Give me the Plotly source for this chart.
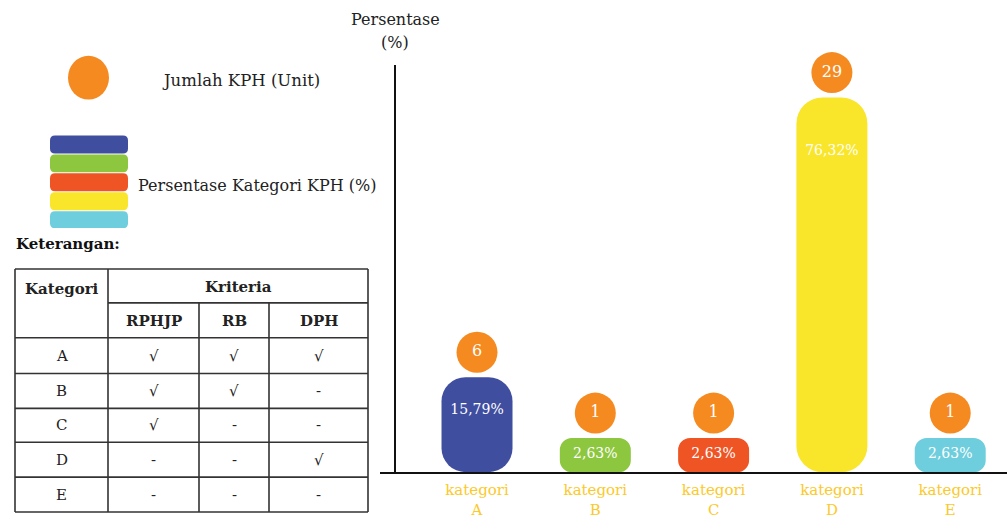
import plotly.graph_objects as go

# ---------------- data ----------------
categories = ["A", "B", "C", "D", "E"]
tick_labels = ["kategori<br>A", "kategori<br>B", "kategori<br>C", "kategori<br>D", "kategori<br>E"]
percent_values = [15.79, 2.63, 2.63, 76.32, 2.63]
percent_labels = ["15,79%", "2,63%", "2,63%", "76,32%", "2,63%"]
kph_units = [6, 1, 1, 29, 1]

table_categories = ["A", "B", "C", "D", "E"]
rphjp = ["√", "√", "√", "-", "-"]
rb = ["√", "√", "-", "-", "-"]
dph = ["√", "-", "-", "√", "-"]

legend_unit = "Jumlah KPH (Unit)"
legend_pct = "Persentase Kategori KPH (%)"

# ---------------- style ----------------
W, H = 1007, 519
bar_colors = ["#3F4E9F", "#8DC63F", "#EF5424", "#F9E62A", "#6FCEDD"]
orange = "#F58A20"
gold = "#FCC92A"
serif = "DejaVu Serif"
corner_px = [24, 12, 12, 26, 12]
label_off_px = [33, 17, 17, 54, 17]
circle_off_px = 25

Y0, Y1 = -4.76, 83.4          # y-axis range (bars start at Y0)
plot_top_px, plot_bot_px = 65, 474
ppu = (plot_bot_px - plot_top_px) / (Y1 - Y0)


def px(x):
    return x / W


def py(y):
    return 1 - y / H


fig = go.Figure()

# bars (explicit base -> both ends rounded)
for i, c in enumerate(categories):
    fig.add_trace(go.Bar(
        x=[c], y=[percent_values[i] - Y0], base=[Y0], width=0.6,
        marker=dict(color=bar_colors[i], line=dict(width=0), cornerradius=corner_px[i]),
        hoverinfo="skip", showlegend=False,
    ))

# percentage labels inside bars
fig.add_trace(go.Scatter(
    x=categories,
    y=[v - o / ppu for v, o in zip(percent_values, label_off_px)],
    mode="text", text=percent_labels,
    textfont=dict(family=serif, size=14, color="white"),
    hoverinfo="skip", showlegend=False, cliponaxis=False,
))

# orange circles with KPH counts
fig.add_trace(go.Scatter(
    x=categories,
    y=[v + circle_off_px / ppu for v in percent_values],
    mode="markers+text", text=[str(k) for k in kph_units],
    textposition="middle center",
    marker=dict(size=41, color=orange, line=dict(width=0)),
    textfont=dict(family=serif, size=16, color="white"),
    hoverinfo="skip", showlegend=False, cliponaxis=False,
))

shapes = []
annotations = []


def note(text, x, y, size, xanchor="center", color="#222"):
    annotations.append(dict(text=text, x=px(x), y=py(y), xref="paper", yref="paper",
                            xanchor=xanchor, yanchor="middle", showarrow=False,
                            font=dict(family=serif, size=size, color=color)))


# legend: orange circle
shapes.append(dict(type="circle", xref="paper", yref="paper",
                   x0=px(68), x1=px(109), y0=py(100), y1=py(56),
                   fillcolor=orange, line=dict(width=0)))
note(legend_unit, 160, 81, 16.5, xanchor="left")


def rrect(x0, y0, x1, y1, r):
    pts = [
        f"M{px(x0 + r)},{py(y0)}",
        f"L{px(x1 - r)},{py(y0)}",
        f"Q{px(x1)},{py(y0)} {px(x1)},{py(y0 + r)}",
        f"L{px(x1)},{py(y1 - r)}",
        f"Q{px(x1)},{py(y1)} {px(x1 - r)},{py(y1)}",
        f"L{px(x0 + r)},{py(y1)}",
        f"Q{px(x0)},{py(y1)} {px(x0)},{py(y1 - r)}",
        f"L{px(x0)},{py(y0 + r)}",
        f"Q{px(x0)},{py(y0)} {px(x0 + r)},{py(y0)}",
        "Z",
    ]
    return " ".join(pts)


legend_rows = [(136, 154), (155, 173), (174, 192), (193, 211), (212, 229)]
for (a, b), col in zip(legend_rows, bar_colors):
    shapes.append(dict(type="path", xref="paper", yref="paper",
                       path=rrect(50, a, 128, b, 5), fillcolor=col, line=dict(width=0)))
note(legend_pct, 136, 186, 16, xanchor="left")

# y-axis title
note("Persentase", 395, 20, 16)
note("(%)", 395, 43, 16)

# table
note("<b>Keterangan:</b>", 14, 245, 15, xanchor="left", color="#111")

tl, tr = 15, 368
c1, c2, c3 = 108, 199, 269
row_lines = [270, 304, 339, 375, 410, 444, 479, 514]
line_style = dict(color="#333", width=1.6)


def hline(y, x0, x1):
    shapes.append(dict(type="line", xref="paper", yref="paper",
                       x0=px(x0), x1=px(x1), y0=py(y), y1=py(y), line=line_style))


def vline(x, y0, y1):
    shapes.append(dict(type="line", xref="paper", yref="paper",
                       x0=px(x), x1=px(x), y0=py(y0), y1=py(y1), line=line_style))


for j, y in enumerate(row_lines):
    if j == 1:
        hline(y, c1, tr)
    else:
        hline(y, tl, tr)
vline(tl, 270, 514)
vline(tr, 270, 514)
vline(c1, 270, 514)
vline(c2, 304, 514)
vline(c3, 304, 514)

note("<b>Kategori</b>", 62, 290, 15)
note("<b>Kriteria</b>", 238, 288, 15)
note("<b>RPHJP</b>", (c1 + c2) / 2, 322, 15)
note("<b>RB</b>", (c2 + c3) / 2, 322, 15)
note("<b>DPH</b>", (c3 + tr) / 2, 322, 15)
for i, cat in enumerate(table_categories):
    yc = (row_lines[i + 2] + row_lines[i + 3]) / 2
    note(cat, (tl + c1) / 2, yc, 15)
    note(rphjp[i], (c1 + c2) / 2, yc, 15)
    note(rb[i], (c2 + c3) / 2, yc, 15)
    note(dph[i], (c3 + tr) / 2, yc, 15)

fig.update_layout(
    width=W, height=H,
    margin=dict(l=0, r=0, t=0, b=0),
    paper_bgcolor="white", plot_bgcolor="white",
    barmode="overlay", showlegend=False,
    shapes=shapes, annotations=annotations,
    xaxis=dict(domain=[px(380), 1], type="category", categoryorder="array",
               categoryarray=categories, range=[-0.82, 4.48],
               tickvals=categories, ticktext=tick_labels,
               tickfont=dict(family=serif, size=15, color=gold),
               showline=True, linecolor="#111", linewidth=2,
               ticks="outside", ticklen=3, tickcolor="rgba(0,0,0,0)",
               showgrid=False, zeroline=False, fixedrange=True),
    yaxis=dict(domain=[py(plot_bot_px), py(plot_top_px)], range=[Y0, Y1],
               anchor="free", position=px(395),
               showline=True, linecolor="#111", linewidth=1.5,
               showticklabels=False, ticks="", showgrid=False, zeroline=False,
               fixedrange=True),
)

fig.write_html("out.html")
